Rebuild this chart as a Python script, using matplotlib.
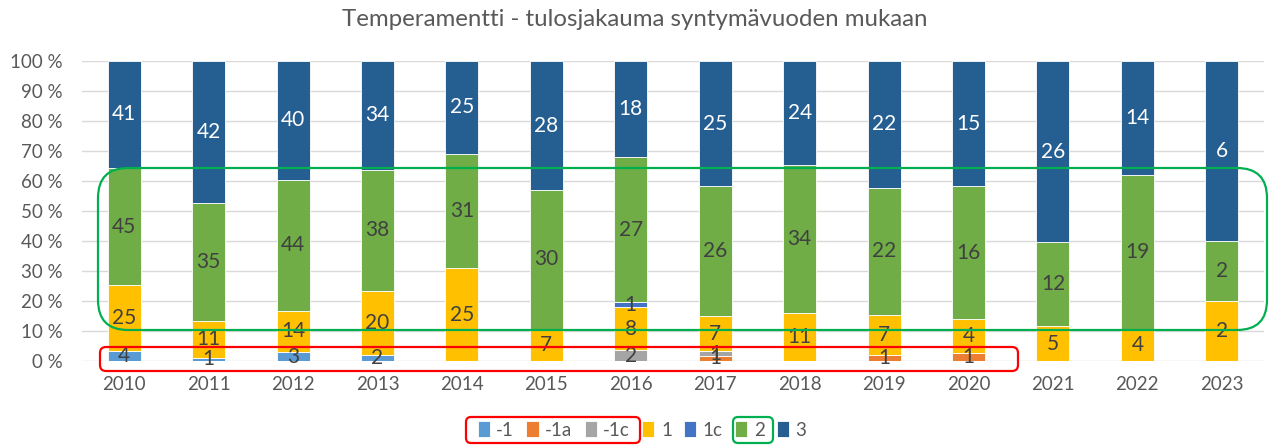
import matplotlib.pyplot as plt
import numpy as np
from matplotlib.patches import FancyBboxPatch

plt.rcParams['font.family'] = ['Lato', 'DejaVu Sans']

# Vuodet ja sarjat (lukumäärät)
years = ['2010', '2011', '2012', '2013', '2014', '2015', '2016',
         '2017', '2018', '2019', '2020', '2021', '2022', '2023']
s_m1 = [4, 1, 3, 2, 0, 0, 0, 0, 0, 0, 0, 0, 0, 0]
s_m1a = [0, 0, 0, 0, 0, 0, 0, 1, 0, 1, 1, 0, 0, 0]
s_m1c = [0, 0, 0, 0, 0, 0, 2, 1, 0, 0, 0, 0, 0, 0]
s_1 = [25, 11, 14, 20, 25, 7, 8, 7, 11, 7, 4, 5, 4, 2]
s_1c = [0, 0, 0, 0, 0, 0, 1, 0, 0, 0, 0, 0, 0, 0]
s_2 = [45, 35, 44, 38, 31, 30, 27, 26, 34, 22, 16, 12, 19, 2]
s_3 = [41, 42, 40, 34, 25, 28, 18, 25, 24, 22, 15, 26, 14, 6]

series = [('-1', s_m1, '#5B9BD5'), ('-1a', s_m1a, '#ED7D31'),
          ('-1c', s_m1c, '#A5A5A5'), ('1', s_1, '#FFC000'),
          ('1c', s_1c, '#4472C4'), ('2', s_2, '#70AD47'),
          ('3', s_3, '#255E91')]

totals = np.sum([np.array(s[1]) for s in series], axis=0)

W, H = 1269, 445
fig = plt.figure(figsize=(W / 100, H / 100), dpi=100)
ax = fig.add_axes([82 / W, 1 - 361 / H, 1182 / W, 300 / H])

x = np.arange(len(years))
bottom = np.zeros(len(years))
for name, vals, col in series:
    pct = np.array(vals) / totals * 100
    ax.bar(x, pct, 0.39, bottom=bottom, color=col, edgecolor='white',
           linewidth=0.6, label=name, zorder=2)
    tcol = 'white' if name == '3' else '#404040'
    for i, v in enumerate(vals):
        if v > 0:
            ax.text(x[i], bottom[i] + pct[i] / 2, str(v), ha='center',
                    va='center', fontsize=15, color=tcol, zorder=3)
    bottom += pct

ax.set_xlim(-0.5, len(years) - 0.5)
ax.set_ylim(0, 100)
ax.set_yticks(np.arange(0, 101, 10))
ax.set_yticklabels([f'{v} %' for v in range(0, 101, 10)])
ax.set_xticks(x)
ax.set_xticklabels(years)
ax.tick_params(axis='both', length=0, labelsize=13.5, colors='#595959')
ax.tick_params(axis='x', pad=11)
ax.tick_params(axis='y', pad=14)
ax.grid(axis='y', color='#D9D9D9', linewidth=1, zorder=0)
for sp in ax.spines.values():
    sp.set_visible(False)

fig.text(0.5, 1 - 20 / H, 'Temperamentti - tulosjakauma syntymävuoden mukaan',
         ha='center', va='center', fontsize=17.3, color='#595959')

leg = fig.legend(loc='center', bbox_to_anchor=(642 / W, 1 - 430 / H), ncol=7,
                 frameon=False, fontsize=13.5, handlelength=0.65, handleheight=0.95,
                 handletextpad=0.35, columnspacing=0.65, borderpad=0)
for t in leg.get_texts():
    t.set_color('#595959')


# korostuslaatikot (pikseleinä)
def box(x0, y0, x1, y1, col, r):
    p = FancyBboxPatch((x0 / W, 1 - y1 / H), (x1 - x0) / W, (y1 - y0) / H,
                       boxstyle=f'round,pad=0,rounding_size={r / W}',
                       transform=fig.transFigure, fill=False, edgecolor=col,
                       linewidth=1.6, zorder=10, mutation_aspect=W / H)
    fig.add_artist(p)


box(100, 347, 1018, 371, '#FF0000', 6)
box(98, 168, 1267, 330, '#00B050', 30)
box(466, 417, 640, 443, '#FF0000', 5)
box(733, 417, 773, 443, '#00B050', 5)

fig.savefig('out.png', dpi=100)
